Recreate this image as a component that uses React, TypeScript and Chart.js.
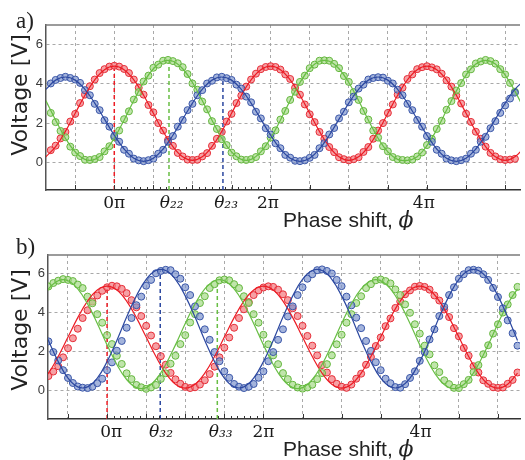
import React, { useEffect, useRef } from 'react';
import { Chart, registerables } from 'chart.js';
Chart.register(...registerables);

// ---------------- shared ----------------
const yTickVals = [0, 2, 4, 6];
const POINT_STEP = 1 / 16; // in units of pi
const LINE_STEP = 1 / 8;
const gridStep = 0.5;
const minorStep = 1 / 12;
const minorFrom = 0;
const minorTo = 2;

// ---------------- panel a ----------------
const xTickLabelsA = ['0π', 'θ₂₂', 'θ₂₃', '2π', '4π'];
const xTickPosA = [0, 0.734, 1.43, 1.965, 3.96];
const markerXA = [0, 0.7, 1.39];
const markerTopA = [4.9, 5.2, 4.35];
const ptStartA = -13 / 16;
const lineStartA = -14 / 16;

const redPtsA = [
  0.62, 0.85, 1.22, 1.55, 2.08, 2.47, 3.02, 3.45, 3.88, 4.22, 4.55, 4.75, 4.88,
  4.92, 4.88, 4.76, 4.55, 4.22, 3.80, 3.45, 2.92, 2.55, 2.00, 1.62, 1.14, 0.84, 0.48, 0.30, 0.14, 0.12, 0.13, 0.30, 0.47, 0.84, 1.20, 1.55, 2.08, 2.47, 3.02, 3.40, 3.86, 4.22, 4.52, 4.75, 4.86,
  4.90, 4.86, 4.73, 4.48, 4.25, 3.80, 3.45, 2.95, 2.45, 2.05, 1.55, 1.20, 0.78, 0.52, 0.26, 0.16, 0.10, 0.16, 0.26, 0.53, 0.78, 1.20, 1.62, 2.00, 2.52, 2.95, 3.45, 3.80, 4.25, 4.48, 4.75, 4.85,
  4.90, 4.84, 4.74, 4.52, 4.18, 3.86, 3.40, 3.00, 2.48, 2.06, 1.56, 1.20, 0.80, 0.48, 0.30, 0.16, 0.12, 0.14, 0.18,
];
const greenPtsA = [
  2.52, 2.05, 1.60, 1.28, 0.80, 0.50, 0.32, 0.13, 0.12, 0.17, 0.27, 0.56, 0.82, 1.28, 1.62, 2.20, 2.60, 3.20, 3.58, 4.12, 4.42, 4.82, 4.98, 5.18,
  5.22, 5.16, 5.05, 4.85, 4.50, 4.02, 3.70, 3.10, 2.70, 2.10, 1.70, 1.18, 0.88, 0.50, 0.31, 0.14, 0.12, 0.16, 0.27, 0.56, 0.82, 1.26, 1.63, 2.18, 2.62, 3.18, 3.60, 4.10, 4.42, 4.80, 4.98, 5.18,
  5.20, 5.18, 5.02, 4.80, 4.40, 4.10, 3.58, 3.18, 2.62, 2.18, 1.62, 1.26, 0.82, 0.56, 0.27, 0.16, 0.12,
  0.10, 0.14, 0.30, 0.50, 0.88, 1.20, 1.70, 2.12, 2.68, 3.12, 3.66, 4.04, 4.48, 4.74, 5.04, 5.14, 5.22, 5.16, 5.03, 4.75, 4.48, 4.05, 3.60,
];
const bluePtsA = [
  4.02, 4.20, 4.30,
  4.36, 4.30, 4.22, 4.05, 3.68, 3.42, 2.98, 2.66, 2.15, 1.82, 1.34, 1.05, 0.64, 0.44, 0.19, 0.10, 0.06, 0.11, 0.19, 0.44, 0.64, 1.05, 1.34, 1.82, 2.16, 2.66, 2.98, 3.42, 3.68, 4.02, 4.16, 4.33,
  4.36, 4.29, 4.20, 3.96, 3.76, 3.35, 3.06, 2.58, 2.24, 1.74, 1.42, 0.97, 0.72, 0.38, 0.24, 0.08, 0.06, 0.10, 0.23, 0.38, 0.72, 0.98, 1.42, 1.75, 2.24, 2.58, 3.06, 3.35, 3.76, 3.96, 4.22, 4.30,
  4.34, 4.32, 4.16, 4.02, 3.70, 3.42, 2.98, 2.66, 2.16, 1.82, 1.34, 1.05, 0.64, 0.44, 0.19, 0.10, 0.06, 0.11, 0.19, 0.44, 0.64, 1.05, 1.30, 1.74, 2.10, 2.52, 2.90, 3.25, 3.55,
];
const redLineA = [
  0.28, 0.80, 1.58, 2.50, 3.42, 4.20, 4.72,
  4.90, 4.72, 4.20, 3.42, 2.50, 1.58, 0.80, 0.28, 0.10, 0.28, 0.80, 1.58, 2.50, 3.42, 4.20, 4.72,
  4.90, 4.72, 4.20, 3.42, 2.50, 1.58, 0.80, 0.28, 0.10, 0.28, 0.80, 1.58, 2.50, 3.42, 4.20, 4.72,
  4.90, 4.72, 4.20, 3.42, 2.50, 1.58, 0.80, 0.28, 0.10, 0.28, 0.80,
];
const greenLineA = [
  3.15, 2.15, 1.23, 0.53, 0.15, 0.15, 0.53, 1.23, 2.15, 3.15, 4.07, 4.77, 5.15, 5.15, 4.77, 4.07,
  3.15, 2.15, 1.23, 0.53, 0.15, 0.15, 0.53, 1.23, 2.15, 3.15, 4.07, 4.77, 5.15, 5.15, 4.77, 4.07,
  3.15, 2.15, 1.23, 0.53, 0.15, 0.10, 0.29, 0.85, 1.67, 2.65, 3.63, 4.45, 5.01, 5.20, 5.01, 4.45,
  3.63, 2.65,
];
const blueLineA = [
  3.72, 4.19, 4.35, 4.19, 3.72, 3.02, 2.20, 1.38, 0.68, 0.21, 0.05, 0.21, 0.68, 1.38, 2.20, 3.02,
  3.72, 4.19, 4.35, 4.19, 3.72, 3.02, 2.20, 1.38, 0.68, 0.21, 0.05, 0.21, 0.68, 1.38, 2.20, 3.02,
  3.72, 4.19, 4.35, 4.19, 3.72, 3.02, 2.20, 1.38, 0.68, 0.21, 0.05, 0.21, 0.68, 1.38, 2.20, 3.02,
  3.72, 4.19,
];

// ---------------- panel b ----------------
const xTickLabelsB = ['0π', 'θ₃₂', 'θ₃₃', '2π', '4π'];
const xTickPosB = [0.054, 0.69, 1.453, 2.0, 4.01];
const markerXB = [0, 0.68, 1.41];
const markerTopB = [5.35, 6.15, 5.65];
const ptStartB = -12 / 16;
const lineStartB = -14 / 16;

const redPtsB = [
  0.72, 0.95, 1.22, 1.68, 2.15, 2.66, 3.15, 3.70, 4.10, 4.55, 4.86, 5.10, 5.28,
  5.36, 5.33, 5.20, 4.98, 4.62, 4.25, 3.80, 3.30, 2.80, 2.25, 1.74, 1.30, 0.88, 0.55, 0.32, 0.16, 0.10, 0.14, 0.28, 0.50, 0.82, 1.20, 1.68, 2.18, 2.70, 3.20, 3.70, 4.15, 4.52, 4.88, 5.12, 5.27,
  5.33, 5.30, 5.16, 4.92, 4.62, 4.20, 3.80, 3.30, 2.78, 2.28, 1.78, 1.28, 0.90, 0.56, 0.32, 0.17, 0.11,
  0.28, 0.58, 0.84, 1.30, 1.70, 2.26, 2.70, 3.28, 3.68, 4.22, 4.55, 4.92, 5.12, 5.31, 5.35,
  5.30, 5.16, 4.86, 4.60, 4.14, 3.75, 3.18, 2.76, 2.16, 1.76, 1.22, 0.90, 0.50, 0.32, 0.14, 0.11, 0.13, 0.32, 0.52, 0.90,
];
const bluePtsB = [
  2.50, 1.95, 1.52, 1.02, 0.62, 0.36, 0.18, 0.12, 0.10, 0.17, 0.35, 0.58, 1.02, 1.42, 2.02, 2.52, 3.20, 3.70, 4.36, 4.80, 5.36, 5.66, 6.00, 6.12,
  6.18, 6.16, 5.95, 5.72, 5.28, 4.88, 4.30, 3.78, 3.12, 2.58, 1.95, 1.48, 0.96, 0.63, 0.31, 0.17, 0.10, 0.17, 0.31, 0.63, 0.96, 1.48, 1.95, 2.58, 3.12, 3.78, 4.30, 4.88, 5.28, 5.72, 5.95, 6.16,
  6.20, 6.12, 5.99, 5.66, 5.34, 4.80, 4.35, 3.72, 3.18, 2.52, 2.01, 1.43, 1.02, 0.58, 0.35, 0.15,
  0.12, 0.30, 0.62, 0.96, 1.50, 1.95, 2.60, 3.12, 3.80, 4.28, 4.88, 5.28, 5.72, 5.95, 6.16, 6.18,
  6.14, 5.95, 5.66, 5.25, 4.78, 4.20, 3.58, 2.92, 2.28,
];
const greenPtsB = [
  5.32, 5.50, 5.62, 5.70, 5.66,
  5.60, 5.42, 5.24, 4.80, 4.46, 3.90, 3.46, 2.82, 2.36, 1.76, 1.34, 0.86, 0.56, 0.26, 0.14, 0.06, 0.13, 0.26, 0.57, 0.86, 1.35, 1.76, 2.36, 2.82, 3.47, 3.90, 4.47, 4.82, 5.24, 5.44, 5.64,
  5.68, 5.64, 5.44, 5.24, 4.82, 4.47, 3.90, 3.46, 2.84, 2.35, 1.78, 1.33, 0.87, 0.56, 0.27, 0.13, 0.07, 0.13, 0.27, 0.56, 0.87, 1.33, 1.78, 2.35, 2.84, 3.46, 3.90, 4.47, 4.82, 5.24, 5.44, 5.64,
  5.68, 5.60, 5.48, 5.17, 4.88, 4.40, 3.97, 3.38, 2.90, 2.28, 1.83, 1.27, 0.92, 0.50, 0.30, 0.11,
  0.10, 0.30, 0.52, 0.92, 1.28, 1.84, 2.30, 2.90, 3.38, 3.98, 4.40, 4.88, 5.30,
];
const redLineB = [
  0.30, 0.87, 1.72, 2.72, 3.72, 4.57, 5.14,
  5.34, 5.14, 4.57, 3.72, 2.72, 1.72, 0.87, 0.30, 0.10, 0.30, 0.87, 1.72, 2.72, 3.72, 4.57, 5.14,
  5.34, 5.14, 4.57, 3.72, 2.72, 1.72, 0.87, 0.30, 0.10, 0.30, 0.87, 1.72, 2.72, 3.72, 4.57, 5.14,
  5.34, 5.14, 4.57, 3.72, 2.72, 1.72, 0.87, 0.30, 0.10, 0.30, 0.87,
];
const blueLineB = [
  3.75, 2.55, 1.46, 0.61, 0.16, 0.16, 0.61, 1.46, 2.55, 3.75, 4.84, 5.69, 6.14, 6.14, 5.69, 4.84,
  3.75, 2.55, 1.46, 0.61, 0.16, 0.16, 0.61, 1.46, 2.55, 3.75, 4.84, 5.69, 6.14, 6.14, 5.69, 4.84,
  3.75, 2.55, 1.46, 0.61, 0.16, 0.16, 0.61, 1.46, 2.55, 3.75, 4.84, 5.69, 6.14, 6.14, 5.69, 4.84,
  3.75, 2.55,
];
const greenLineB = [
  4.43, 5.20, 5.62, 5.62, 5.20, 4.43, 3.42, 2.32, 1.31, 0.54, 0.12, 0.12, 0.54, 1.31, 2.32, 3.42,
  4.43, 5.20, 5.62, 5.62, 5.20, 4.43, 3.42, 2.32, 1.31, 0.54, 0.12, 0.12, 0.54, 1.31, 2.32, 3.42,
  4.43, 5.20, 5.62, 5.62, 5.20, 4.43, 3.42, 2.32, 1.31, 0.54, 0.12, 0.12, 0.54, 1.31, 2.32, 3.42,
  4.43, 5.20,
];

// ---------------- styles ----------------
const RED = { line: 'rgb(236,28,36)', pt: 'rgb(230,45,55)', fill: 'rgba(242,120,125,0.7)' };
const GREEN = { line: 'rgb(104,190,68)', pt: 'rgb(100,182,62)', fill: 'rgba(165,218,135,0.7)' };
const BLUE = { line: 'rgb(44,72,160)', pt: 'rgb(58,86,168)', fill: 'rgba(125,148,205,0.7)' };
const GRID = 'rgba(160,160,160,0.9)';

const panelA = {
  letter: 'a)', letterBaseline: 27.5, yTitleCy: 95, xTitleBaseline: 227,
  xMin: -0.8734, xMax: 5.19, yMin: -1.41, yMax: 7.0, axisH: 40, yAxisW: 46,
  xTickLabels: xTickLabelsA, xTickPos: xTickPosA,
  markerX: markerXA, markerTop: markerTopA, markerColors: [RED.line, GREEN.line, BLUE.line],
  ptStart: ptStartA, lineStart: lineStartA,
  series: [
    { c: BLUE, pts: bluePtsA, line: blueLineA },
    { c: GREEN, pts: greenPtsA, line: greenLineA },
    { c: RED, pts: redPtsA, line: redLineA },
  ],
};
const panelB = {
  letter: 'b)', letterBaseline: 23.5, yTitleCy: 100, xTitleBaseline: 226,
  xMin: -0.7557, xMax: 5.282, yMin: -1.49, yMax: 6.94, axisH: 41, yAxisW: 48,
  xTickLabels: xTickLabelsB, xTickPos: xTickPosB,
  markerX: markerXB, markerTop: markerTopB, markerColors: [RED.line, BLUE.line, GREEN.line],
  ptStart: ptStartB, lineStart: lineStartB,
  series: [
    { c: BLUE, pts: bluePtsB, line: blueLineB },
    { c: GREEN, pts: greenPtsB, line: greenLineB },
    { c: RED, pts: redPtsB, line: redLineB },
  ],
};

function majorList(p: any) {
  const out: number[] = [];
  const start = Math.ceil(p.xMin / gridStep) * gridStep;
  for (let v = start; v <= p.xMax + 1e-9; v += gridStep) out.push(Math.round(v * 1000) / 1000);
  return out;
}
function minorList() {
  const out: number[] = [];
  for (let v = minorFrom + minorStep; v < minorTo - 1e-9; v += minorStep) out.push(v);
  return out;
}

function decorPlugin(p: any) {
  const majors = majorList(p);
  const minors = minorList();
  return {
    id: 'decor',
    afterDraw(chart: any) {
      const { ctx, chartArea: a } = chart;
      const xs = chart.scales.x;
      ctx.save();
      // top frame line
      ctx.strokeStyle = '#7a7a7a';
      ctx.lineWidth = 1.5;
      ctx.beginPath();
      ctx.moveTo(a.left - 0.75, a.top);
      ctx.lineTo(a.right, a.top);
      ctx.stroke();
      // inward tick marks
      ctx.strokeStyle = '#333';
      ctx.lineWidth = 1;
      const tick = (v: number, len: number) => {
        const px = Math.round(xs.getPixelForValue(v)) + 0.5;
        if (px <= a.left + 1 || px >= a.right) return;
        ctx.beginPath();
        ctx.moveTo(px, a.bottom);
        ctx.lineTo(px, a.bottom - len);
        ctx.stroke();
      };
      majors.forEach((v) => tick(v, 5));
      minors.forEach((v) => tick(v, 3));
      // panel letter
      ctx.fillStyle = '#222';
      ctx.textAlign = 'left';
      ctx.textBaseline = 'alphabetic';
      ctx.font = "23px 'Liberation Serif', 'DejaVu Serif', serif";
      ctx.fillText(p.letter, 16, p.letterBaseline);
      // y title
      ctx.save();
      ctx.translate(27, p.yTitleCy);
      ctx.rotate(-Math.PI / 2);
      ctx.textAlign = 'center';
      ctx.font = "22px 'DejaVu Sans', 'Liberation Sans', sans-serif";
      ctx.fillText('Voltage [V]', 0, 0);
      ctx.restore();
      // x title
      const t = 'Phase shift, ';
      ctx.font = "21px 'Liberation Sans', Arial, sans-serif";
      ctx.textAlign = 'left';
      ctx.fillText(t, 283, p.xTitleBaseline);
      const w = ctx.measureText(t).width;
      ctx.font = "italic 22px 'DejaVu Serif', serif";
      ctx.fillText('ϕ', 283 + w, p.xTitleBaseline);
      ctx.restore();
    },
  };
}

function buildConfig(p: any) {
  const mk = (vals: number[], start: number, step: number) => vals.map((v, i) => ({ x: start + i * step, y: v }));
  const datasets: any[] = [];
  p.markerX.forEach((mx: number, i: number) => {
    datasets.push({
      type: 'line',
      data: [{ x: mx, y: p.yMin }, { x: mx, y: p.markerTop[i] }],
      borderColor: p.markerColors[i],
      borderWidth: 1.5,
      borderDash: [4, 3],
      pointRadius: 0,
      tension: 0,
      order: 3,
    });
  });
  p.series.forEach((s: any) => {
    datasets.push({
      type: 'scatter',
      data: mk(s.pts, p.ptStart, POINT_STEP),
      backgroundColor: s.c.fill,
      borderColor: s.c.pt,
      borderWidth: 1,
      pointRadius: 3.5,
      order: 2,
    });
    datasets.push({
      type: 'line',
      data: mk(s.line, p.lineStart, LINE_STEP),
      borderColor: s.c.line,
      borderWidth: 1.2,
      pointRadius: 0,
      tension: 0.4,
      fill: false,
      order: 1,
    });
  });
  const majors = majorList(p);
  const tickVals = Array.from(new Set([...majors, ...p.xTickPos])).sort((a: any, b: any) => a - b);
  const isMajor = (v: any) => majors.some((m) => Math.abs(m - v) < 1e-6);
  const labelIdx = (v: any) => p.xTickPos.findIndex((m: number) => Math.abs(m - v) < 1e-6);
  return {
    type: 'scatter',
    data: { datasets },
    plugins: [decorPlugin(p)],
    options: {
      animation: false,
      responsive: false,
      events: [],
      layout: { padding: { top: 25, left: 0, right: 0, bottom: 0 } },
      plugins: { legend: { display: false }, tooltip: { enabled: false }, title: { display: false } },
      scales: {
        x: {
          type: 'linear',
          min: p.xMin,
          max: p.xMax,
          afterBuildTicks: (s: any) => { s.ticks = tickVals.map((v: any) => ({ value: v })); },
          afterFit: (s: any) => { s.height = p.axisH; },
          grid: {
            color: (c: any) => (c.tick && isMajor(c.tick.value) ? GRID : 'rgba(0,0,0,0)'),
            lineWidth: 1,
            drawTicks: false,
          },
          border: { display: true, color: '#333', width: 1.5, dash: [3, 3] },
          ticks: {
            autoSkip: false,
            maxRotation: 0,
            minRotation: 0,
            padding: 3,
            color: '#1a1a1a',
            font: (c: any) => {
              const i = c.tick ? labelIdx(c.tick.value) : -1;
              const theta = i >= 0 && p.xTickLabels[i].startsWith('θ');
              return { family: "'DejaVu Serif', serif", size: 17, style: theta ? 'italic' : 'normal' };
            },
            callback: (v: any) => {
              const i = labelIdx(v);
              return i >= 0 ? p.xTickLabels[i] : '';
            },
          },
        },
        y: {
          type: 'linear',
          min: p.yMin,
          max: p.yMax,
          afterBuildTicks: (s: any) => { s.ticks = yTickVals.map((v) => ({ value: v })); },
          afterFit: (s: any) => { s.width = p.yAxisW; },
          grid: { color: GRID, lineWidth: 1, drawTicks: false },
          border: { display: true, color: '#555', width: 1.5, dash: [3, 3] },
          ticks: {
            padding: 3,
            color: '#3a3a3a',
            font: { family: "'Liberation Sans', Arial, sans-serif", size: 13 },
            callback: (v: any) => String(v),
          },
        },
      },
    },
  };
}

export default function App() {
  const refA = useRef<HTMLCanvasElement>(null);
  const refB = useRef<HTMLCanvasElement>(null);
  useEffect(() => {
    const a = new Chart(refA.current as any, buildConfig(panelA) as any);
    const b = new Chart(refB.current as any, buildConfig(panelB) as any);
    return () => { a.destroy(); b.destroy(); };
  }, []);
  return (
    <div style={{ position: 'absolute', left: 0, top: 0, width: 525, height: 460, background: '#fff', overflow: 'hidden' }}>
      <canvas ref={refA} width={525} height={230} style={{ position: 'absolute', left: 0, top: 0, display: 'block' }} />
      <canvas ref={refB} width={525} height={230} style={{ position: 'absolute', left: 0, top: 230, display: 'block' }} />
    </div>
  );
}
